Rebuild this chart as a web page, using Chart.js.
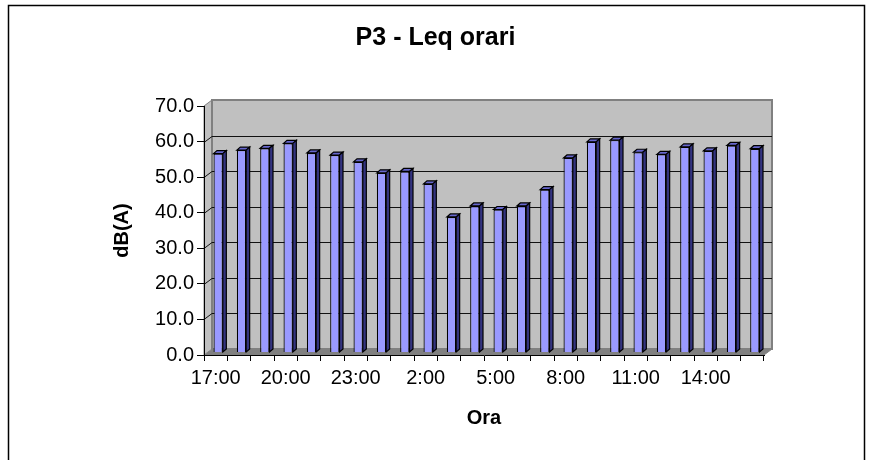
<!DOCTYPE html>
<html lang="it">
<head>
  <meta charset="UTF-8">
  <title>P3 - Leq orari</title>
  <script src="https://cdn.jsdelivr.net/npm/chart.js"></script>
  <style>
    body { margin: 0; background: #fff; }
    canvas { display: block; }
  </style>
</head>
<body>
  <canvas id="grafico" width="871" height="460"></canvas>

  <script>
    // dati
    const ore = ['17:00', '18:00', '19:00', '20:00', '21:00', '22:00', '23:00', '0:00',
                 '1:00', '2:00', '3:00', '4:00', '5:00', '6:00', '7:00', '8:00',
                 '9:00', '10:00', '11:00', '12:00', '13:00', '14:00', '15:00', '16:00'];
    const leq = [55.9, 56.9, 57.4, 58.8, 56.1, 55.5, 53.6, 50.5,
                 50.9, 47.4, 38.1, 41.2, 40.2, 41.2, 45.8, 54.7,
                 59.2, 59.7, 56.3, 55.7, 57.8, 56.7, 58.2, 57.3];
    const yMin = 0, yMax = 70, yPasso = 10;

    const FONT = "'Liberation Sans', Arial, sans-serif";
    // profondita pareti e barre (effetto 3D stile Excel)
    const DX = 8, DY = -6;
    const BX = 2.5, BY = -2.5;
    const SX = 3.5, SY = -3;

    const pareti = {
      id: 'pareti',
      beforeDraw(chart) {
        const { ctx, chartArea: a, scales: { y } } = chart;
        ctx.save();
        ctx.fillStyle = '#fff';
        ctx.fillRect(0, 0, chart.width, chart.height);
        ctx.strokeStyle = '#000';
        ctx.lineWidth = 1.5;
        ctx.strokeRect(8.5, 5.5, 856, 480);

        // pavimento
        ctx.fillStyle = '#808080';
        ctx.beginPath();
        ctx.moveTo(a.left, a.bottom);
        ctx.lineTo(a.left + DX, a.bottom + DY);
        ctx.lineTo(a.right + DX, a.bottom + DY);
        ctx.lineTo(a.right, a.bottom);
        ctx.closePath();
        ctx.fill();

        // parete sinistra
        ctx.fillStyle = '#c0c0c0';
        ctx.beginPath();
        ctx.moveTo(a.left, a.top);
        ctx.lineTo(a.left + DX, a.top + DY);
        ctx.lineTo(a.left + DX, a.bottom + DY);
        ctx.lineTo(a.left, a.bottom);
        ctx.closePath();
        ctx.fill();
        ctx.strokeStyle = '#808080';
        ctx.lineWidth = 1;
        ctx.stroke();

        // parete di fondo
        ctx.fillStyle = '#c0c0c0';
        ctx.fillRect(a.left + DX, a.top + DY, a.right - a.left, a.bottom - a.top);
        ctx.lineWidth = 2;
        ctx.strokeRect(a.left + DX, a.top + DY, a.right - a.left, a.bottom - a.top);

        // griglia
        ctx.strokeStyle = '#111';
        ctx.lineWidth = 1;
        y.ticks.forEach(t => {
          if (t.value === yMin || t.value === yMax) return;
          const py = Math.round(y.getPixelForValue(t.value) + DY) + 0.5;
          ctx.beginPath();
          ctx.moveTo(a.left, py - DY);
          ctx.lineTo(a.left + DX, py);
          ctx.lineTo(a.right + DX, py);
          ctx.stroke();
        });

        // bordo destro del pavimento
        ctx.strokeStyle = '#808080';
        ctx.beginPath();
        ctx.moveTo(a.right, a.bottom);
        ctx.lineTo(a.right + DX, a.bottom + DY);
        ctx.stroke();
        ctx.restore();
      },
      beforeDatasetsDraw(chart) {
        chart.ctx.save();
        chart.ctx.translate(BX, BY);
      },
      afterDatasetsDraw(chart) {
        const ctx = chart.ctx;
        ctx.restore();
        ctx.save();
        ctx.strokeStyle = '#000';
        ctx.lineWidth = 1.2;
        chart.getDatasetMeta(0).data.forEach(bar => {
          const { x, y, base, width } = bar.getProps(['x', 'y', 'base', 'width'], true);
          const l = x - width / 2 + BX, r = x + width / 2 + BX;
          const t = y + BY, b = base + BY;
          // faccia superiore
          ctx.fillStyle = '#6666cc';
          ctx.beginPath();
          ctx.moveTo(l, t);
          ctx.lineTo(l + SX, t + SY);
          ctx.lineTo(r + SX, t + SY);
          ctx.lineTo(r, t);
          ctx.closePath();
          ctx.fill();
          ctx.stroke();
          // faccia laterale
          ctx.fillStyle = '#333380';
          ctx.beginPath();
          ctx.moveTo(r, t);
          ctx.lineTo(r + SX, t + SY);
          ctx.lineTo(r + SX, b + SY);
          ctx.lineTo(r, b);
          ctx.closePath();
          ctx.fill();
          ctx.stroke();
        });
        ctx.restore();
      }
    };

    new Chart(document.getElementById('grafico'), {
      type: 'bar',
      data: {
        labels: ore,
        datasets: [{
          label: 'Leq',
          data: leq,
          backgroundColor: '#9999ff',
          borderColor: '#000',
          borderWidth: 1.2,
          barPercentage: 0.4,
          categoryPercentage: 1
        }]
      },
      options: {
        responsive: false,
        animation: false,
        layout: { padding: 0 },
        plugins: {
          legend: { display: false },
          tooltip: { enabled: false },
          title: {
            display: true,
            text: 'P3 - Leq orari',
            color: '#000',
            font: { family: FONT, size: 25, weight: 'bold' },
            padding: { top: 23, bottom: 53 }
          }
        },
        scales: {
          x: {
            grid: { display: true, drawOnChartArea: false, drawTicks: true, tickLength: 6, color: '#000', offset: true },
            border: { display: true, color: '#000', width: 1 },
            ticks: {
              color: '#000',
              font: { family: FONT, size: 20 },
              autoSkip: false,
              maxRotation: 0,
              padding: 5,
              callback: (v, i) => (i % 3 === 0 ? ore[i] : '')
            },
            title: {
              display: true,
              text: 'Ora',
              color: '#000',
              font: { family: FONT, size: 20, weight: 'bold' },
              padding: { top: 0, bottom: 30 }
            },
            afterFit: s => { s.height = 105; }
          },
          y: {
            min: yMin,
            max: yMax,
            grid: { display: true, drawOnChartArea: false, drawTicks: true, tickLength: 7, color: '#000' },
            border: { display: true, color: '#000', width: 1 },
            ticks: {
              stepSize: yPasso,
              color: '#000',
              font: { family: FONT, size: 20 },
              padding: 3,
              callback: v => v.toFixed(1)
            },
            title: {
              display: true,
              text: 'dB(A)',
              color: '#000',
              font: { family: FONT, size: 20, weight: 'bold' },
              padding: { top: 110, bottom: 0 }
            },
            afterFit: s => { s.width = 204; }
          },
          margine: {
            position: 'right',
            display: true,
            grid: { display: false },
            border: { display: false },
            ticks: { display: false },
            afterFit: s => { s.width = 107; }
          }
        }
      },
      plugins: [pareti]
    });
  </script>
</body>
</html>
